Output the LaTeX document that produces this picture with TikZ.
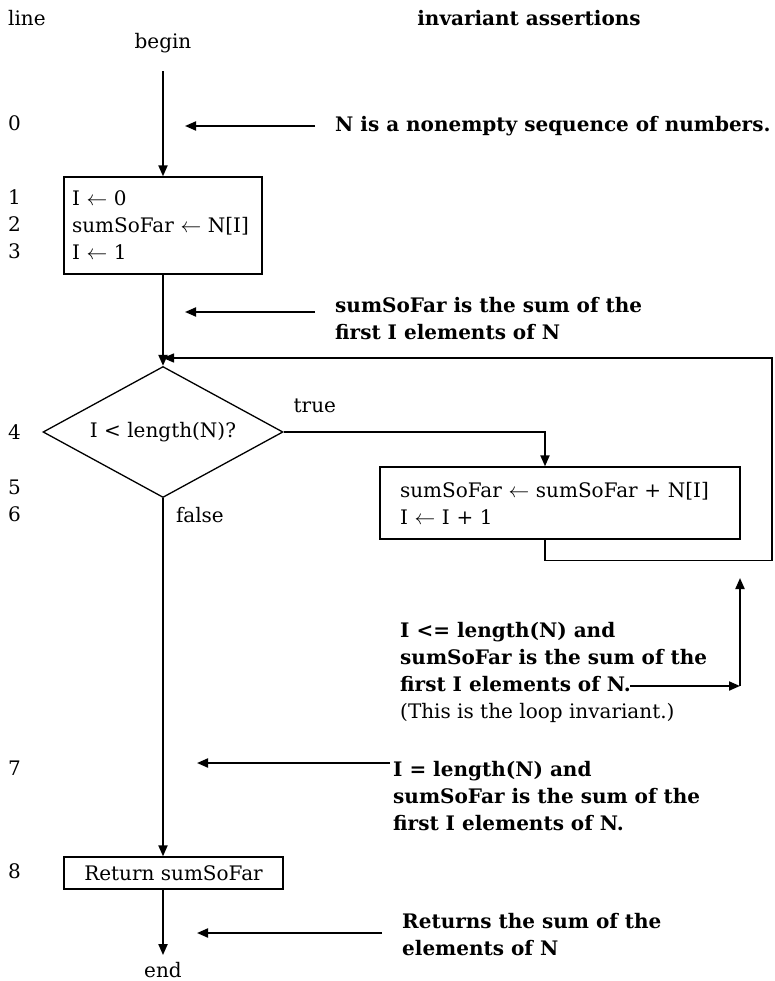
\documentclass[tikz,border=0pt]{standalone}
\usepackage{fontspec}
\setmainfont{DejaVu Serif}
\usetikzlibrary{arrows.meta, positioning, calc, shapes.geometric}

\begin{document}
\begin{tikzpicture}[x=1pt, y=-1pt,
        every node/.style={font=\fontsize{20}{27}\selectfont, inner sep=0pt},
        stmt/.style={rectangle, draw, line width=1.3pt, align=left},
        test/.style={diamond, draw, line width=1.3pt, aspect=1.83,
                     minimum width=240pt, minimum height=131pt},
        note/.style={anchor=west, align=left,
                     font=\fontsize{20}{27}\selectfont\bfseries},
        num/.style={anchor=west},
        arr/.style={-{Triangle[length=11pt, width=9pt]}, line width=2pt},
        loop/.style={line width=1.5pt}
      ]
        \useasboundingbox (0,0) rectangle (775,981);

        % left column and heading
        \node[num] (hdl) at (8,18) {line};
        \node[note, anchor=center] (hda) at (529,18) {invariant assertions};
        \foreach \n/\y in {0/123, 1/197, 2/224, 3/251, 4/432,
                           5/487, 6/514, 7/768, 8/871}
          \node[num] (ln\n) at (8,\y) {\n};

        % flow
        \node (begin) at (163,43) {begin};
        \node[stmt, minimum width=198pt, minimum height=97pt,
              text width=182pt] (init) at (163,225.5)
              {I $\leftarrow$ 0\\ sumSoFar $\leftarrow$ N[I]\\ I $\leftarrow$ 1};
        \node[test] (cond) at (163,432) {I < length(N)?};
        \node[stmt, minimum width=360pt, minimum height=72pt,
              text width=320pt] (upd) at (560,503)
              {sumSoFar $\leftarrow$ sumSoFar + N[I]\\ I $\leftarrow$ I + 1};
        \node[stmt, minimum width=219pt, minimum height=32pt] (ret)
              at (173.5,873) {Return sumSoFar};
        \node (endn) at (163,970) {end};

        \coordinate (tcol) at (545,0);
        \coordinate (join) at (163,358);
        \coordinate (loopR) at (772,358);

        \draw[arr] ($(begin.south)+(0,18)$) -- (init);
        \draw[arr] (init) -- (cond);
        \draw[arr] (cond.east) -| node[pos=0, anchor=south west, xshift=9pt,
              yshift=18pt] (tl) {true} (upd.north -| tcol);
        \draw[arr, loop] (upd.south -| tcol) -- ++(0,21) -| (loopR) -- (join);
        \draw[arr] (cond.south) -- node[pos=0, anchor=west, xshift=12pt,
              yshift=-17pt] (fl) {false} (ret.north -| cond.south);
        \draw[arr] (ret.south -| cond.south) -- ($(endn.north)+(0,-7)$);

        % assertions
        \node[note] (as0) at (335,126) {N is a nonempty sequence of numbers.};
        \node[note] (as1) at (335,318.5)
              {sumSoFar is the sum of the\\ first I elements of N};
        \node[note] (as2) at (400,672.5)
              {I <= length(N) and\\ sumSoFar is the sum of the\\
               first I elements of N.\\ {\mdseries (This is the loop invariant.)}};
        \node[note] (as3) at (393,796)
              {I = length(N) and\\ sumSoFar is the sum of the\\
               first I elements of N.};
        \node[note] (as4) at (402,935)
              {Returns the sum of the\\ elements of N};

        \coordinate (p0) at (315,126);
        \coordinate (p1) at (315,312);
        \coordinate (p2) at (630,686);
        \coordinate (p2c) at (740,686);
        \coordinate (p3) at (390,763);
        \coordinate (p4) at (382,933);

        \draw[arr] (p0) -- ++(-130,0);
        \draw[arr] (p1) -- ++(-130,0);
        \draw[arr] (p2) -- (p2c);
        \draw[arr] (p2c) -- ++(0,-108);
        \draw[arr] (p3) -- ++(-193,0);
        \draw[arr] (p4) -- ++(-185,0);
      \end{tikzpicture}
\end{document}
